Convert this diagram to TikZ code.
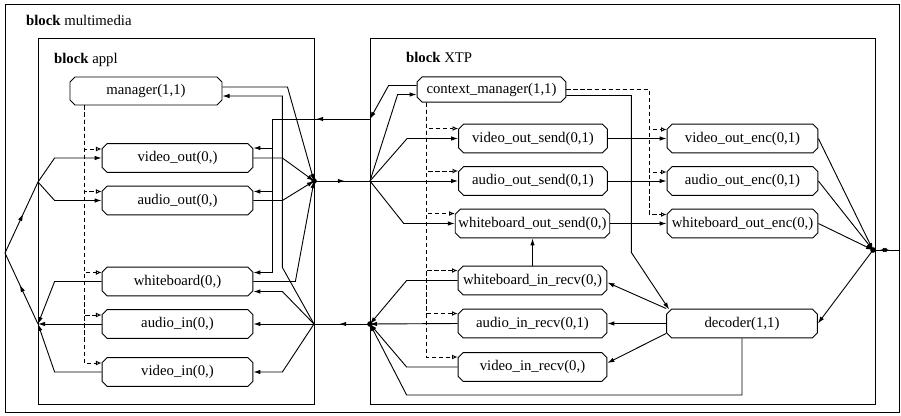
\documentclass[tikz,border=0pt]{standalone}
\usepackage{fontspec}
\setmainfont{Liberation Serif}
\usetikzlibrary{arrows.meta,calc,shapes.misc,decorations.markings}

\tikzset{
  proc/.style={draw, chamfered rectangle, chamfered rectangle xsep=1.8pt,
    chamfered rectangle ysep=1.8pt, inner xsep=0.5pt, inner ysep=1pt, minimum width=3.77cm,
    minimum height=0.72cm, font=\fontsize{10.5}{12}\selectfont},
  lbl/.style={anchor=west, font=\fontsize{10.5}{12}\selectfont},
  flow/.style={-{Latex[length=5pt,width=3.2pt]}},
  ctl/.style={dash pattern=on 3pt off 2pt, -{Latex[open,length=4pt,width=3.4pt]}},
  mid/.style={postaction={decorate}, decoration={markings,
    mark=at position 0.55 with {\arrow{Latex[length=5pt,width=3.2pt]}}}},
  dbl/.style={postaction={decorate}, decoration={markings,
    mark=at position 0.25 with {\arrowreversed{Latex[length=5pt,width=3.2pt]}},
    mark=at position 0.65 with {\arrow{Latex[length=5pt,width=3.2pt]}}}},
  hub/.style={circle, fill, inner sep=0pt, minimum size=4pt},
}

\begin{document}
\begin{tikzpicture}[x=0.025cm, y=-0.025cm, line width=0.65pt]
  \useasboundingbox (0,0) rectangle (901,415);
  % blocks
  \draw (5,4) rectangle (899,412);
  \draw (38,38) rectangle (314,404);
  \draw (370,38) rectangle (875,404);
  \node[lbl] (mmlbl) at (21,20) {\textbf{block} multimedia};
  \node[lbl] (appllbl) at (49,60) {\textbf{block} appl};
  \node[lbl] (xtplbl) at (401,57) {\textbf{block} XTP};

  % ports on the block borders
  \coordinate (ext) at (5,253);
  \coordinate (lout) at (38,182);
  \coordinate (lin) at (38,324);
  \coordinate (aout) at (314,181);
  \coordinate (ain) at (314,324);
  \coordinate (xin) at (370,181);
  \coordinate (xout) at (370,324);
  \coordinate (xj) at (370,119);
  \coordinate (tap) at (272,119);
  \coordinate (rhub) at (873,250);
  \coordinate (rext) at (899,250);

  % appl processes
  \node[proc, minimum width=3.8cm, minimum height=0.7cm] (manager) at (146,91) {manager(1,1)};
  \node[proc] (vidout) at (177.5,158) {video\_out(0,)};
  \node[proc] (audout) at (177.5,200.5) {audio\_out(0,)};
  \node[proc] (wboard) at (177.5,281.5) {whiteboard(0,)};
  \node[proc] (audin) at (177.5,324) {audio\_in(0,)};
  \node[proc] (vidin) at (177.5,372) {video\_in(0,)};

  % XTP processes
  \node[proc, minimum width=3.72cm, minimum height=0.63cm] (ctxmgr) at (491.5,89.5) {context\_manager(1,1)};
  \node[proc, minimum width=3.72cm] (vos) at (533,138.5) {video\_out\_send(0,1)};
  \node[proc, minimum width=3.72cm] (aos) at (533,181) {audio\_out\_send(0,1)};
  \node[proc, minimum width=3.72cm] (wos) at (532.5,223.5) {whiteboard\_out\_send(0,)};
  \node[proc, minimum width=3.72cm] (wir) at (532.5,280.5) {whiteboard\_in\_recv(0,)};
  \node[proc, minimum width=3.72cm] (air) at (532.5,323.5) {audio\_in\_recv(0,1)};
  \node[proc, minimum width=3.72cm] (vir) at (532.5,367) {video\_in\_recv(0,)};
  \node[proc] (voe) at (742.5,138.5) {video\_out\_enc(0,1)};
  \node[proc] (aoe) at (742.5,181) {audio\_out\_enc(0,1)};
  \node[proc] (woe) at (742.5,223.5) {whiteboard\_out\_enc(0,)};
  \node[proc] (dec) at (742,323.5) {decoder(1,1)};

  % control lines (dashed)
  \coordinate (mgrd) at ($(manager.south)+(-62,0)$);
  \foreach \b in {vidout,audout,wboard,audin,vidin}
    \draw[ctl] (mgrd) |- ($(\b.west)+(0,-9)$);
  \coordinate (ctxd) at ($(ctxmgr.south)+(-65,0)$);
  \foreach \b in {vos,aos,wos,wir,air,vir}
    \draw[ctl] (ctxd) |- ($(\b.west)+(0,-10)$);
  \coordinate (ctxr) at ($(ctxmgr.east)+(83,0)$);
  \foreach \b in {voe,aoe,woe}
    \draw[ctl] (ctxmgr.east) -- (ctxr) |- ($(\b.west)+(0,-9)$);

  % outside of appl
  \draw[mid] (lin) -- (ext);
  \draw[mid] (ext) -- (lout);
  \draw[flow] (lout) -- ($(vidout.west)+(-47,0)$) -- (vidout.west);
  \draw[flow] (lout) -- ($(audout.west)+(-47,0)$) -- (audout.west);
  \draw[flow] (wboard.west) -- ++(-47,0) -- (lin);
  \draw[flow] (audin.west) -- (lin);
  \draw[flow] (vidin.west) -- ++(-47,0) -- (lin);

  % appl <-> XTP
  \draw[flow] ($(manager.east)+(0,-4)$) -- ++(65,0) -- (aout);
  \draw[flow] (vidout.east) -- ++(29,0) -- (aout);
  \draw[flow] (audout.east) -- ++(29,0) -- (aout);
  \draw[flow] (wboard.east) -- ++(42,0) -- (aout);
  \draw[mid] (aout) -- (xin);
  \draw[mid] (xout) -- (ain);
  \draw[flow] (ain) -- ($(wboard.east)+(29,-14)$) |- ($(manager.east)+(0,5)$);
  \draw[flow] (ain) -- ($(wboard.east)+(29,10)$) -- ($(wboard.east)+(0,10)$);
  \draw[flow] (ain) -- (audin.east);
  \draw[flow] (ain) -- ($(vidin.east)+(29,0)$) -- (vidin.east);
  \draw[mid] (xj) -- (tap);
  \foreach \b/\d in {vidout/-10,audout/-9,wboard/-9}
    \draw[flow] (tap) |- ($(\b.east)+(0,\d)$);

  % inside XTP
  \draw[flow] ($(ctxmgr.west)+(0,-4)$) -- ++(-28,0) -- (xj);
  \draw[flow] (xin) -- ($(ctxmgr.west)+(-19,5)$) -- ($(ctxmgr.west)+(0,5)$);
  \draw[flow] (xin) -- ($(vos.west)+(-51,0)$) -- (vos.west);
  \draw[flow] (xin) -- (aos.west);
  \draw[flow] (xin) -- ($(wos.west)+(-51,0)$) -- (wos.west);
  \draw[flow] (vos.east) -- (voe.west);
  \draw[flow] (aos.east) -- (aoe.west);
  \draw[flow] (wos.east) -- (woe.west);
  \draw[flow] (wir.north) -- (wos.south);
  \draw[flow] (wir.west) -- ++(-51,0) -- (xout);
  \draw[flow] (air.west) -- (xout);
  \draw[flow] (vir.west) -- ++(-51,0) -- (xout);
  \draw[flow] ($(dec.west)+(0,-15)$) -- ($(wir.east)+(0,2)$);
  \draw[flow] (dec.west) -- (air.east);
  \draw[flow] ($(dec.west)+(0,10)$) -- ($(vir.east)+(0,-4)$);
  \draw[flow] (dec.south) |- ($(vir.west)+(-51,28)$) -- (xout);
  \draw[flow] ($(ctxmgr.east)+(0,6)$) -- ++(65,0) -- ++(0,157) -- ($(dec.west)+(3,-14)$);
  \draw[flow] (voe.east) -- (rhub);
  \draw[flow] (aoe.east) -- (rhub);
  \draw[flow] (woe.east) -- (rhub);
  \draw[flow] (rhub) -- (dec.east);
  \draw[dbl] (rhub) -- (rext);

  % junction blobs
  \node[hub] (aoutdot) at (aout) {};
  \node[hub] (xoutdot) at (xout) {};
  \node[hub] (rhubdot) at (rhub) {};
\end{tikzpicture}
\end{document}
